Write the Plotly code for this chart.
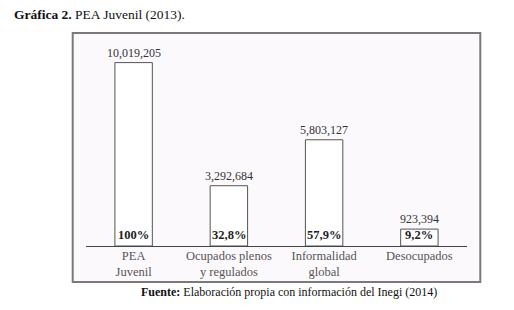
import plotly.graph_objects as go

categories = ["PEA<br>Juvenil", "Ocupados plenos<br>y regulados", "Informalidad<br>global", "Desocupados"]
values = [10019205, 3292684, 5803127, 923394]
value_labels = ["10,019,205", "3,292,684", "5,803,127", "923,394"]
percent_labels = ["100%", "32,8%", "57,9%", "9,2%"]

x = list(range(len(categories)))
serif = "Liberation Serif"

W, H = 506, 302
fig = go.Figure()
fig.add_trace(go.Bar(
    x=x, y=values, width=0.393,
    marker=dict(color="white", line=dict(color="#555555", width=1)),
    hoverinfo="skip",
))

annotations = []
for xi, v, vl, pl in zip(x, values, value_labels, percent_labels):
    annotations.append(dict(x=xi, y=v, xref="x", yref="y", text=vl, showarrow=False,
                            yanchor="bottom", yshift=1,
                            font=dict(family=serif, size=12, color="#333333")))
    annotations.append(dict(x=xi, y=0, xref="x", yref="y", text=f"<b>{pl}</b>", showarrow=False,
                            yanchor="bottom", yshift=2,
                            font=dict(family=serif, size=12.5, color="#222222")))

annotations.append(dict(
    text="<b>Fuente:</b> Elaboración propia con información del Inegi (2014)",
    xref="paper", yref="paper", x=(284.5 - 86) / 373, y=(246 - 292) / 206,
    xanchor="center", yanchor="middle", showarrow=False,
    font=dict(family=serif, size=12, color="#111111")))

fig.add_shape(type="rect", xref="paper", yref="paper",
              x0=-0.0349, x1=1.0349, y0=-0.1748, y1=1.034,
              line=dict(color="#7a7a7a", width=2), fillcolor="#fcf9fc", layer="below")

fig.update_layout(
    width=W, height=H,
    margin=dict(l=78, r=47, t=32, b=64),
    paper_bgcolor="white", plot_bgcolor="rgba(0,0,0,0)",
    showlegend=False,
    font=dict(family=serif),
    title=dict(text="<b>Gráfica 2.</b> PEA Juvenil (2013).", x=6 / W, xref="container",
               y=1 - 6 / H, xanchor="left", yanchor="middle",
               font=dict(family=serif, size=13.5, color="#111111")),
    xaxis=dict(range=[-0.5, 3.5], tickvals=x, ticktext=categories, showline=True,
               linecolor="#444444", linewidth=1, showgrid=False, zeroline=False, ticks="",
               ticklabelstandoff=-2,
               tickfont=dict(family=serif, size=12.5, color="#555555"), fixedrange=True),
    yaxis=dict(range=[0, 11254000], visible=False, showgrid=False, zeroline=False, fixedrange=True),
    annotations=annotations,
)

fig.write_html("out.html")
